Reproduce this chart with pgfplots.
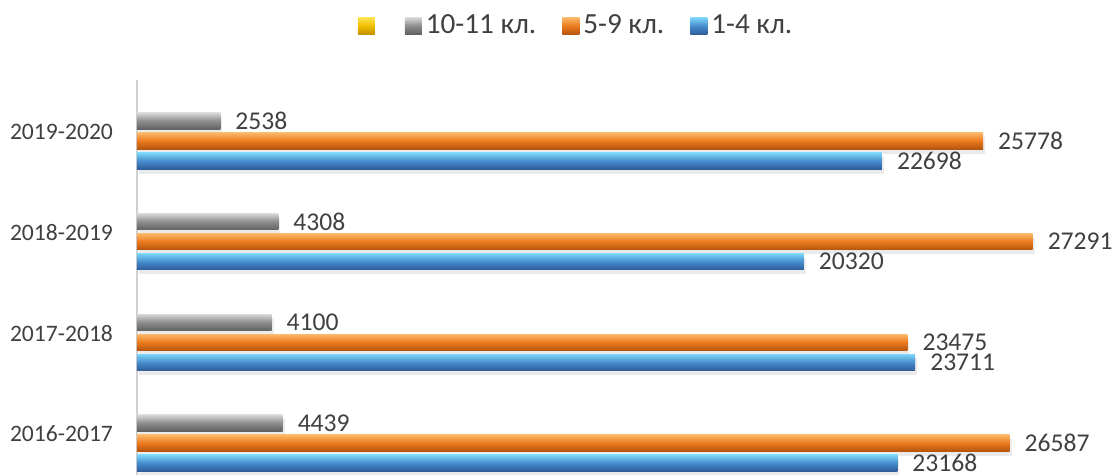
\documentclass[border=0pt]{standalone}
\usepackage{fontspec}
\setmainfont{Carlito}
\usepackage{pgfplots}
\pgfplotsset{compat=1.18}

\definecolor{txt}{HTML}{404040}
\definecolor{axisgray}{HTML}{D0D0D0}

\pgfplotsset{
  legsq/.style={legend image code/.code={\path[##1] (0pt,-4.25pt) rectangle (8.5pt,4.25pt);}},
  shGray/.style={draw=none, top color=black!15, bottom color=black!62, middle color=black!45},
  shOrange/.style={draw=none, top color={rgb,255:red,250;green,185;blue,105}, bottom color={rgb,255:red,180;green,84;blue,14}, middle color={rgb,255:red,236;green,122;blue,30}},
  shBlue/.style={draw=none, top color={rgb,255:red,125;green,215;blue,250}, bottom color={rgb,255:red,46;green,92;blue,155}, middle color={rgb,255:red,70;green,140;blue,205}},
  shYellow/.style={draw=none, top color={rgb,255:red,255;green,228;blue,80}, bottom color={rgb,255:red,195;green,145;blue,0}, middle color={rgb,255:red,240;green,190;blue,0}},
  shadowed/.style={preaction={shade=false, fill=black!8, transform canvas={xshift=1pt, yshift=-2.2pt}}},
  % one bar per \addplot, so that each bar gets its own shading
  gbar/.style={xbar, bar shift=10pt, shGray, shadowed, forget plot,
    every node near coord/.append style={yshift=10pt}},
  obar/.style={xbar, bar shift=0pt, shOrange, shadowed, forget plot},
  bbar/.style={xbar, bar shift=-10pt, shBlue, shadowed, forget plot,
    every node near coord/.append style={yshift=-10pt}},
}

\begin{document}
\begin{tikzpicture}
\useasboundingbox (-68.5pt,0pt) rectangle (490pt,237.5pt);
\begin{axis}[
  at={(0pt,0pt)}, anchor=south west,
  scale only axis,
  width=490pt, height=197.5pt,
  xmin=0, xmax=29860,
  ymin=-0.318, ymax=3.605,
  hide x axis,
  axis y line*=left,
  y axis line style={draw=axisgray, line width=0.8pt},
  ytick={0,1,2,3},
  yticklabels={2016-2017,2017-2018,2018-2019,2019-2020},
  major tick length=0pt,
  yticklabel style={font=\fontsize{11.8}{14}\selectfont, text=txt, yshift=4.5pt, xshift=-8.5pt},
  bar width=8.25pt,
  point meta=x,
  nodes near coords,
  nodes near coords align={horizontal},
  every node near coord/.append style={font=\fontsize{12.8}{15}\selectfont, text=txt, anchor=west, xshift=4pt},
  /pgf/number format/1000 sep={},
  /pgf/number format/assume math mode=true,
  clip=false,
  legend columns=-1,
  legend style={at={(0.449,1.137)}, anchor=center, draw=none, fill=none,
    font=\fontsize{14.6}{17}\selectfont, text=txt,
    /tikz/every even column/.append style={column sep=11pt}},
]
\addlegendimage{legsq, shYellow}
\addlegendentry{}
\addlegendimage{legsq, shGray}
\addlegendentry{10-11 кл.}
\addlegendimage{legsq, shOrange}
\addlegendentry{5-9 кл.}
\addlegendimage{legsq, shBlue}
\addlegendentry{1-4 кл.}

% 2016-2017
\addplot[gbar] coordinates {(4439,0)};
\addplot[obar] coordinates {(26587,0)};
\addplot[bbar] coordinates {(23168,0)};
% 2017-2018
\addplot[gbar] coordinates {(4100,1)};
\addplot[obar] coordinates {(23475,1)};
\addplot[bbar] coordinates {(23711,1)};
% 2018-2019
\addplot[gbar] coordinates {(4308,2)};
\addplot[obar] coordinates {(27291,2)};
\addplot[bbar] coordinates {(20320,2)};
% 2019-2020
\addplot[gbar] coordinates {(2538,3)};
\addplot[obar] coordinates {(25778,3)};
\addplot[bbar] coordinates {(22698,3)};
\end{axis}
\end{tikzpicture}
\end{document}
